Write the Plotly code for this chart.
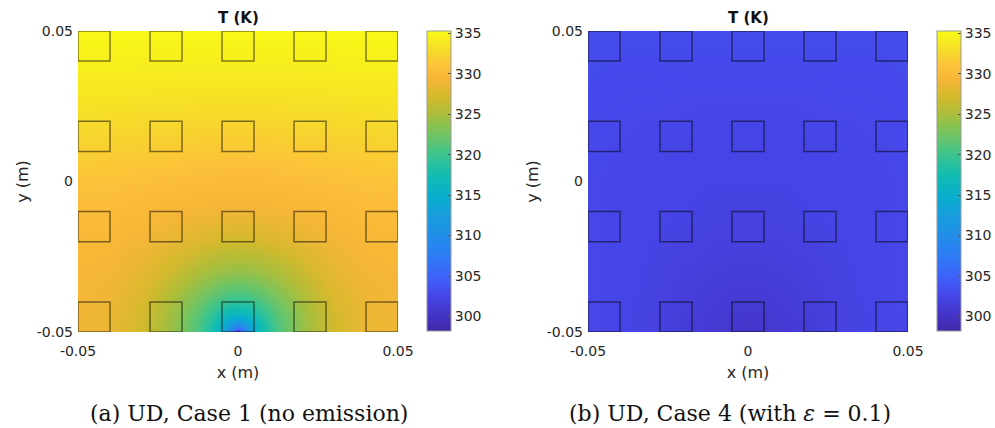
import plotly.graph_objects as go

# Grid of sample positions (m); the grid is refined around the cold spot at (0, -0.05)
x_pts = [-0.05, -0.04, -0.03, -0.02, -0.012, -0.006, -0.003, -0.001, 0.0,
         0.001, 0.003, 0.006, 0.012, 0.02, 0.03, 0.04, 0.05]
y_pts = [-0.05, -0.049, -0.047, -0.044, -0.038, -0.03, -0.02, -0.01, 0.0,
         0.01, 0.02, 0.03, 0.04, 0.05]

# Temperature (K), UD Case 1 (no emission); one row per y value
T_case1 = [
    [329.0, 328.6, 327.0, 324.0, 320.5, 316.2, 311.5, 304.5, 298.0, 304.5, 311.5, 316.2, 320.5, 324.0, 327.0, 328.6, 329.0],
    [329.0, 328.6, 327.0, 324.0, 320.5, 316.3, 311.8, 306.5, 304.5, 306.5, 311.8, 316.3, 320.5, 324.0, 327.0, 328.6, 329.0],
    [329.0, 328.6, 327.0, 324.1, 320.7, 316.8, 313.6, 311.8, 311.5, 311.8, 313.6, 316.8, 320.7, 324.1, 327.0, 328.6, 329.0],
    [329.1, 328.7, 327.1, 324.3, 321.2, 318.2, 316.8, 316.3, 316.2, 316.3, 316.8, 318.2, 321.2, 324.3, 327.1, 328.7, 329.1],
    [329.2, 328.9, 327.6, 325.1, 322.8, 321.2, 320.7, 320.5, 320.5, 320.5, 320.7, 321.2, 322.8, 325.1, 327.6, 328.9, 329.2],
    [329.4, 329.2, 328.3, 326.6, 325.1, 324.3, 324.1, 324.0, 324.0, 324.0, 324.1, 324.3, 325.1, 326.6, 328.3, 329.2, 329.4],
    [329.8, 329.6, 329.1, 328.3, 327.6, 327.1, 327.0, 327.0, 327.0, 327.0, 327.0, 327.1, 327.6, 328.3, 329.1, 329.6, 329.8],
    [330.3, 330.2, 329.9, 329.5, 329.2, 329.1, 329.0, 329.0, 329.0, 329.0, 329.0, 329.1, 329.2, 329.5, 329.9, 330.2, 330.3],
    [331.0, 330.9, 330.7, 330.5, 330.3, 330.2, 330.2, 330.2, 330.2, 330.2, 330.2, 330.2, 330.3, 330.5, 330.7, 330.9, 331.0],
    [332.0, 331.9, 331.8, 331.6, 331.5, 331.4, 331.4, 331.4, 331.4, 331.4, 331.4, 331.4, 331.5, 331.6, 331.8, 331.9, 332.0],
    [333.0, 332.9, 332.8, 332.7, 332.6, 332.6, 332.6, 332.6, 332.6, 332.6, 332.6, 332.6, 332.6, 332.7, 332.8, 332.9, 333.0],
    [333.8, 333.8, 333.7, 333.6, 333.6, 333.6, 333.6, 333.6, 333.6, 333.6, 333.6, 333.6, 333.6, 333.6, 333.7, 333.8, 333.8],
    [334.5, 334.5, 334.4, 334.4, 334.4, 334.4, 334.4, 334.4, 334.4, 334.4, 334.4, 334.4, 334.4, 334.4, 334.4, 334.5, 334.5],
    [335.0, 335.0, 335.0, 335.0, 335.0, 335.0, 335.0, 335.0, 335.0, 335.0, 335.0, 335.0, 335.0, 335.0, 335.0, 335.0, 335.0],
]

# Temperature (K), UD Case 4 (emissivity 0.1)
T_case4 = [
    [302.7, 302.4, 302.0, 301.4, 301.0, 300.7, 300.5, 300.3, 300.2, 300.3, 300.5, 300.7, 301.0, 301.4, 302.0, 302.4, 302.7],
    [302.7, 302.4, 302.0, 301.4, 301.0, 300.7, 300.5, 300.35, 300.3, 300.35, 300.5, 300.7, 301.0, 301.4, 302.0, 302.4, 302.7],
    [302.7, 302.4, 302.0, 301.4, 301.0, 300.8, 300.6, 300.5, 300.5, 300.5, 300.6, 300.8, 301.0, 301.4, 302.0, 302.4, 302.7],
    [302.7, 302.4, 302.0, 301.5, 301.1, 300.9, 300.8, 300.7, 300.7, 300.7, 300.8, 300.9, 301.1, 301.5, 302.0, 302.4, 302.7],
    [302.7, 302.5, 302.1, 301.6, 301.3, 301.1, 301.0, 301.0, 301.0, 301.0, 301.0, 301.1, 301.3, 301.6, 302.1, 302.5, 302.7],
    [302.7, 302.5, 302.2, 301.8, 301.6, 301.5, 301.4, 301.4, 301.4, 301.4, 301.4, 301.5, 301.6, 301.8, 302.2, 302.5, 302.7],
    [302.7, 302.5, 302.3, 302.1, 301.9, 301.8, 301.8, 301.8, 301.8, 301.8, 301.8, 301.8, 301.9, 302.1, 302.3, 302.5, 302.7],
    [302.7, 302.5, 302.4, 302.3, 302.2, 302.1, 302.1, 302.1, 302.1, 302.1, 302.1, 302.1, 302.2, 302.3, 302.4, 302.5, 302.7],
    [302.7, 302.5, 302.4, 302.4, 302.3, 302.3, 302.3, 302.3, 302.3, 302.3, 302.3, 302.3, 302.3, 302.4, 302.4, 302.5, 302.7],
    [302.8, 302.6, 302.5, 302.4, 302.4, 302.4, 302.4, 302.4, 302.4, 302.4, 302.4, 302.4, 302.4, 302.4, 302.5, 302.6, 302.8],
    [302.8, 302.7, 302.6, 302.6, 302.5, 302.5, 302.5, 302.5, 302.5, 302.5, 302.5, 302.5, 302.5, 302.6, 302.6, 302.7, 302.8],
    [302.9, 302.8, 302.8, 302.7, 302.7, 302.7, 302.7, 302.7, 302.7, 302.7, 302.7, 302.7, 302.7, 302.7, 302.8, 302.8, 302.9],
    [303.0, 302.9, 302.9, 302.9, 302.9, 302.9, 302.9, 302.9, 302.9, 302.9, 302.9, 302.9, 302.9, 302.9, 302.9, 302.9, 303.0],
    [303.0, 303.0, 303.0, 303.0, 303.0, 303.0, 303.0, 303.0, 303.0, 303.0, 303.0, 303.0, 303.0, 303.0, 303.0, 303.0, 303.0],
]

# Chip footprints: centre positions (m) and side length
chip_x = [-0.045, -0.0225, 0.0, 0.0225, 0.045]
chip_y = [0.045, 0.015, -0.015, -0.045]
chip_size = 0.01

# Axis / colour-bar ticks
axis_tickvals = [-0.05, 0.0, 0.05]
axis_ticktext = ["-0.05", "0", "0.05"]
cbar_tickvals = [300, 305, 310, 315, 320, 325, 330, 335]
T_min, T_max = 298.2, 335.3

captions = ["(a) UD, Case 1 (no emission)", "(b) UD, Case 4 (with <i>ε</i> = 0.1)"]

parula = [
    [0.00, "rgb(62,38,168)"],
    [0.06, "rgb(69,54,203)"],
    [0.12, "rgb(70,70,233)"],
    [0.18, "rgb(62,98,249)"],
    [0.25, "rgb(46,124,245)"],
    [0.32, "rgb(34,142,232)"],
    [0.40, "rgb(20,160,218)"],
    [0.45, "rgb(8,175,205)"],
    [0.52, "rgb(18,188,178)"],
    [0.59, "rgb(62,196,140)"],
    [0.66, "rgb(118,196,95)"],
    [0.72, "rgb(168,190,60)"],
    [0.78, "rgb(212,185,45)"],
    [0.84, "rgb(246,182,55)"],
    [0.88, "rgb(253,192,58)"],
    [0.93, "rgb(246,216,44)"],
    [1.00, "rgb(249,251,20)"],
]

W, H = 995, 428
TXT = "#262626"
SANS = "DejaVu Sans"


def px_x(p):
    return p / W


def px_y(p):
    return 1 - p / H


panels = [
    dict(z=T_case1, xdom=(78, 398), cbx=427, xa="x", ya="y", cap_x=249),
    dict(z=T_case4, xdom=(588, 908), cbx=937, xa="x2", ya="y2", cap_x=730),
]
plot_top, plot_bot = 31, 332
cb_top, cb_bot = 31, 331

fig = go.Figure()
shapes = []
annotations = []

for i, p in enumerate(panels):
    fig.add_trace(go.Heatmap(
        x=x_pts, y=y_pts, z=p["z"],
        xaxis=p["xa"], yaxis=p["ya"],
        zsmooth="best", colorscale=parula, zmin=T_min, zmax=T_max,
        colorbar=dict(
            x=px_x(p["cbx"]), xanchor="left", xref="paper",
            y=px_y(cb_top), yanchor="top", yref="paper",
            len=(cb_bot - cb_top) / H, lenmode="fraction",
            thickness=24, thicknessmode="pixels",
            xpad=0, ypad=0,
            outlinecolor="#9a9a9a", outlinewidth=1,
            tickvals=cbar_tickvals, ticks="inside", ticklen=3,
            tickcolor="#555555", tickwidth=1,
            tickfont=dict(family=SANS, size=14, color=TXT),
        ),
        hoverinfo="skip",
    ))

    suffix = "" if i == 0 else "2"
    common = dict(
        range=[-0.05, 0.05], tickvals=axis_tickvals, ticktext=axis_ticktext,
        showgrid=False, zeroline=False, showline=False, ticks="",
        tickfont=dict(family=SANS, size=14, color=TXT),
        fixedrange=True, automargin=False,
    )
    fig.update_layout(**{
        "xaxis" + suffix: dict(
            common, domain=[px_x(p["xdom"][0]), px_x(p["xdom"][1])],
            anchor="y" + suffix, ticklabelstandoff=9,
            title=dict(text="x (m)", font=dict(family=SANS, size=16, color=TXT), standoff=8),
        ),
        "yaxis" + suffix: dict(
            common, domain=[px_y(plot_bot), px_y(plot_top)],
            anchor="x" + suffix, ticklabelstandoff=4,
            title=dict(text="y (m)", font=dict(family=SANS, size=16, color=TXT), standoff=4),
        ),
    })

    for cy in chip_y:
        for cx in chip_x:
            shapes.append(dict(
                type="rect", xref=p["xa"], yref=p["ya"],
                x0=cx - chip_size / 2, x1=cx + chip_size / 2,
                y0=cy - chip_size / 2, y1=cy + chip_size / 2,
                line=dict(color="rgba(0,0,0,0.5)", width=1.5),
                fillcolor="rgba(0,0,0,0)",
            ))

    mid = (p["xdom"][0] + p["xdom"][1]) / 2
    annotations.append(dict(
        text="<b>T (K)</b>", x=px_x(mid), y=px_y(18), xref="paper", yref="paper",
        xanchor="center", yanchor="middle", showarrow=False,
        font=dict(family=SANS, size=15, color="#111111"),
    ))
    annotations.append(dict(
        text=captions[i], x=px_x(p["cap_x"]), y=px_y(413), xref="paper", yref="paper",
        xanchor="center", yanchor="middle", showarrow=False,
        font=dict(family="DejaVu Serif", size=22, color="#111111"),
    ))

fig.update_layout(
    width=W, height=H,
    margin=dict(l=0, r=0, t=0, b=0, autoexpand=False),
    paper_bgcolor="white", plot_bgcolor="white",
    shapes=shapes, annotations=annotations,
    showlegend=False,
)

fig.write_html("out.html")
